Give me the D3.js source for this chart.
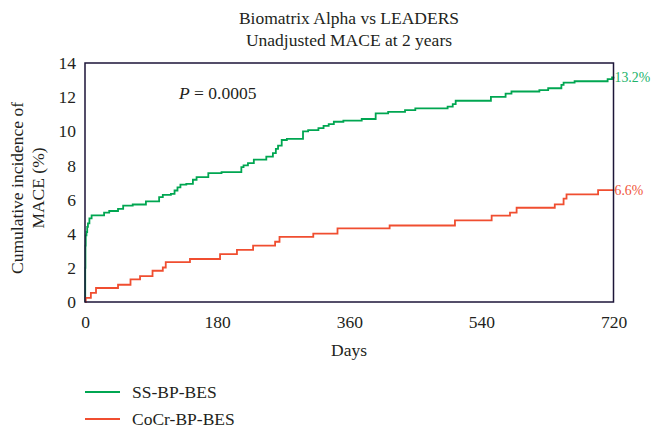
<!DOCTYPE html>
<html><head><meta charset="utf-8">
<script src="https://cdn.jsdelivr.net/npm/d3@7"></script>
<style>body{margin:0;background:#fff}svg{display:block}text{font-family:"Liberation Serif","Times New Roman",serif;fill:#231f20}</style>
</head><body><svg id="c" width="651" height="427"></svg>
<script>
const titleLines = ["Biomatrix Alpha vs LEADERS", "Unadjusted MACE at 2 years"];
const xTicks = [0, 180, 360, 540, 720];
const yTicks = [0, 2, 4, 6, 8, 10, 12, 14];
const seriesNames = ["SS-BP-BES", "CoCr-BP-BES"];
const endLabels = ["13.2%", "6.6%"];
const ssDays = [0,0.3,0.6,1,2,3,4,6,9,26,33,45,52,65,83,101,106,117,122,126,130,138,147,152,168,186,213,216,222,230,247,256,260,263,268,275,297,304,318,325,332,339,352,377,396,413,436,450,494,501,505,553,573,581,619,631,649,652,667,712,718,720];
const ssVals = [0,2.0,3.3,3.9,4.1,4.4,4.6,4.9,5.08,5.23,5.33,5.45,5.65,5.71,5.9,6.14,6.28,6.33,6.53,6.72,6.88,6.92,7.16,7.31,7.55,7.61,7.9,8.0,8.13,8.34,8.52,8.72,8.97,9.16,9.49,9.55,9.99,10.07,10.19,10.32,10.42,10.56,10.62,10.72,11.05,11.14,11.24,11.34,11.44,11.59,11.79,12.02,12.21,12.33,12.41,12.52,12.72,12.85,12.93,13.05,13.15,13.2];
const cocrDays = [0,1,8,15,45,62,75,92,106,110,143,184,207,229,259,265,311,344,415,504,554,579,588,640,652,656,699,720];
const cocrVals = [0,0.24,0.53,0.82,1.01,1.32,1.52,1.83,2.02,2.33,2.52,2.81,3.05,3.3,3.53,3.82,4.0,4.31,4.48,4.78,5.06,5.24,5.52,5.72,6.05,6.3,6.55,6.6];
const colors = ["#00a651", "#f04e30"];
const labelColors = ["#21b36a", "#f0553a"];

const svg = d3.select("#c");
const L = 85, R = 613.5, T = 63, B = 302;
const x = d3.scaleLinear().domain([0, 720]).range([L, R]);
const y = d3.scaleLinear().domain([0, 14]).range([B, T]);

svg.selectAll(".title").data(titleLines).enter().append("text")
  .attr("x", 349).attr("y", (d, i) => 24 + i * 21.5)
  .attr("text-anchor", "middle").attr("font-size", 17.5).text(d => d);

// axes (labels only)
const xa = svg.append("g").attr("transform", `translate(0,${B})`)
  .call(d3.axisBottom(x).tickValues(xTicks).tickSize(0).tickPadding(14));
const ya = svg.append("g").attr("transform", `translate(${L},0)`)
  .call(d3.axisLeft(y).tickValues(yTicks).tickSize(0).tickPadding(9));
[xa, ya].forEach(g => {
  g.select(".domain").remove();
  g.selectAll("text").attr("font-size", 17.5).attr("font-family", "Liberation Serif").attr("fill", "#231f20");
});

const line = d3.line().x(d => x(d[0])).y(d => y(d[1])).curve(d3.curveStepAfter);
const data = [d3.zip(ssDays, ssVals), d3.zip(cocrDays, cocrVals)];
svg.selectAll(".series").data(data).enter().append("path")
  .attr("d", line).attr("fill", "none")
  .attr("stroke", (d, i) => colors[i]).attr("stroke-width", 1.8);

// frame
svg.append("rect").attr("x", L).attr("y", T).attr("width", R - L).attr("height", B - T)
  .attr("fill", "none").attr("stroke", "#1c1538").attr("stroke-width", 1.5);

// end labels
svg.selectAll(".endl").data(endLabels).enter().append("text")
  .attr("x", R + 1).attr("y", (d, i) => y(data[i][data[i].length - 1][1]) + 5.5)
  .attr("font-size", 13.8).style("fill", (d, i) => labelColors[i]).text(d => d);

svg.append("text").attr("x", 179).attr("y", 99).attr("font-size", 17.5)
  .html('<tspan font-style="italic">P</tspan> = 0.0005');

svg.append("text").attr("x", 349).attr("y", 356).attr("text-anchor", "middle")
  .attr("font-size", 17.5).text("Days");

const yl = svg.append("text").attr("transform", "translate(0,188) rotate(-90)")
  .attr("text-anchor", "middle").attr("font-size", 17.5);
yl.append("tspan").attr("x", 0).attr("y", 23).text("Cumulative incidence of");
yl.append("tspan").attr("x", 0).attr("y", 44).text("MACE (%)");

const lg = svg.selectAll(".lg").data(seriesNames).enter().append("g")
  .attr("transform", (d, i) => `translate(85,${392 + i * 27})`);
lg.append("line").attr("x1", 0).attr("x2", 35).attr("stroke", (d, i) => colors[i]).attr("stroke-width", 2.2);
lg.append("text").attr("x", 47).attr("y", 5.5).attr("font-size", 17.5).text(d => d);
</script></body></html>
